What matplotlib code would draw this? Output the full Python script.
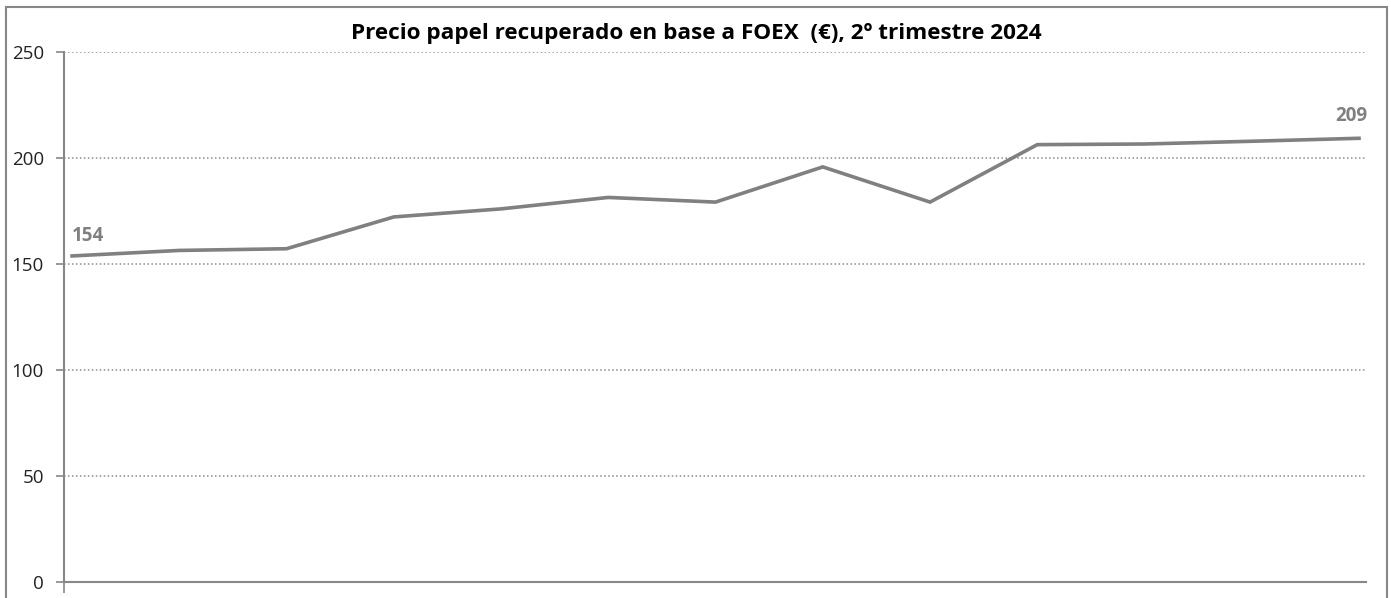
import matplotlib
matplotlib.use("Agg")
import matplotlib.pyplot as plt
from matplotlib.patches import Rectangle

title = "Precio papel recuperado en base a FOEX  (€), 2º trimestre 2024"
weeks = list(range(1, 14))
prices = [153.8, 156.4, 157.2, 172.2, 176.0, 181.4, 179.2, 195.8, 179.2, 206.3, 206.6, 207.9, 209.3]
yticks = [0, 50, 100, 150, 200, 250]

GRAY = "#808080"
AX = "#878787"

fig = plt.figure(figsize=(13.91, 5.98), dpi=100)
ax = fig.add_axes([64/1391, 1-582/598, (1366-64)/1391, (582-52)/598])

x = list(range(len(prices)))
ax.plot(x, prices, color=GRAY, lw=2.6, solid_joinstyle="miter", zorder=3)

ax.set_xlim(-0.075, len(prices) - 1 + 0.065)
ax.set_ylim(0, 250)
ax.set_yticks(yticks)
ax.set_yticklabels([str(v) for v in yticks], fontsize=13.5, family="Open Sans", color="#222222")
ax.set_xticks([ax.get_xlim()[0]])
ax.set_xticklabels([""])
ax.tick_params(axis="y", length=6, width=1.2, color=AX, pad=8.5)
ax.tick_params(axis="x", length=8, width=1.2, color=AX)

for v in yticks[1:]:
    ax.axhline(v, color="#8a8a8a", lw=1.1, ls=(0, (1, 1.6)), zorder=1)

for s in ["top", "right"]:
    ax.spines[s].set_visible(False)
for s in ["left", "bottom"]:
    ax.spines[s].set_color(AX)
    ax.spines[s].set_linewidth(1.5)

ax.annotate(f"{prices[0]:.0f}", (x[0], prices[0]), xytext=(-0.5, 7), textcoords="offset points",
            ha="left", va="bottom", fontsize=13.5, fontweight="bold", color=GRAY, family="Open Sans")
ax.annotate(f"{prices[-1]:.0f}", (x[-1], prices[-1]), xytext=(6, 9), textcoords="offset points",
            ha="right", va="bottom", fontsize=13.5, fontweight="bold", color=GRAY, family="Open Sans")

fig.text(696/1391, 1-33/598, title, ha="center", va="center", fontsize=16.2,
         fontweight="bold", family="Open Sans", color="black")

fig.patches.append(Rectangle((6/1391, -0.05), (1387-6)/1391, 1.05-7/598, transform=fig.transFigure,
                             fill=False, edgecolor=AX, lw=1.5))

fig.savefig("out.png", dpi=100)
